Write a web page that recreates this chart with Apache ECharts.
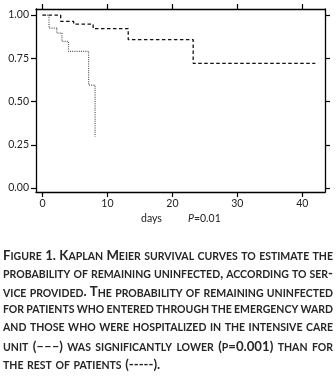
<!DOCTYPE html>
<html>
<head>
<meta charset="utf-8">
<script src="https://cdn.jsdelivr.net/npm/echarts@6/dist/echarts.min.js"></script>
<style>
  html, body { margin: 0; padding: 0; background: #fff; }
  #chart { width: 336px; height: 376px; }
</style>
</head>
<body>
<div id="chart"></div>
<script>
// survival curves (day, survival probability after the step)
var dashedDays = [0, 2.8, 4.8, 7.8, 13.2, 23.2, 42];
var dashedSurv = [1.00, 0.963, 0.948, 0.922, 0.858, 0.721, 0.721];
var dottedDays = [0, 1.0, 2.2, 3.0, 4.0, 7.1, 8.1];
var dottedSurv = [1.00, 0.925, 0.896, 0.848, 0.790, 0.595, 0.297];

var xTicks = [0, 10, 20, 30, 40];
var yTicks = [0, 0.25, 0.5, 0.75, 1];

// caption, lower case letters become small caps
var captionLines = [
    "Figure 1. Kaplan Meier survival curves to estimate the",
    "probability of remaining uninfected, according to ser-",
    "vice provided. The probability of remaining uninfected",
    "for patients who entered through the emergency ward",
    "and those who were hospitalized in the intensive care",
    "unit (\u2013\u2013\u2013) was significantly lower (p=0.001) than for",
    "the rest of patients (-----)."
];

var FONT = "Lato";
var BIG = 13.2, SMALL = 10.5;
var capLeft = 3, capRight = 333, capBase = 260.7, capStep = 18.1;

var ctx = document.createElement("canvas").getContext("2d");

function measure(str, size) {
    ctx.font = "bold " + size + "px " + FONT;
    return ctx.measureText(str).width;
}

// split a word into runs of big / small letters
function wordRuns(word) {
    var runs = [];
    for (var i = 0; i < word.length; i++) {
        var c = word[i];
        var small = c !== c.toUpperCase();
        var k = small ? "s" : "b";
        var ch = c.toUpperCase();
        if (runs.length && runs[runs.length - 1].k === k) {
            runs[runs.length - 1].t += ch;
        } else {
            runs.push({k: k, t: ch});
        }
    }
    return runs;
}

function captionGraphics() {
    var els = [];
    for (var i = 0; i < captionLines.length; i++) {
        var words = captionLines[i].split(" ");
        var total = 0, parts = [];
        for (var j = 0; j < words.length; j++) {
            var runs = wordRuns(words[j]);
            var s = "";
            for (var r = 0; r < runs.length; r++) {
                total += measure(runs[r].t, runs[r].k === "b" ? BIG : SMALL);
                s += "{" + runs[r].k + "|" + runs[r].t + "}";
            }
            parts.push(s);
        }
        var gap = (capRight - capLeft - total) / (words.length - 1);
        if (gap < 2) gap = 2;
        if (i === captionLines.length - 1) gap = 3.6;
        var line = parts.join("{g| }");
        var rich = {
            b: {fontSize: BIG, lineHeight: BIG, fontWeight: "bold", fontFamily: FONT, fill: "#262626", verticalAlign: "bottom"},
            s: {fontSize: SMALL, lineHeight: SMALL, fontWeight: "bold", fontFamily: FONT, fill: "#262626", verticalAlign: "bottom"},
            g: {fontSize: SMALL, lineHeight: SMALL, width: gap, fontFamily: FONT, verticalAlign: "bottom"}
        };
        els.push({
            type: "text",
            left: capLeft,
            top: capBase + i * capStep - BIG + 2,
            style: {text: line, rich: rich}
        });
    }
    return els;
}

function zip(a, b) {
    var out = [];
    for (var i = 0; i < a.length; i++) out.push([a[i], b[i]]);
    return out;
}

var axisLine = {show: true, onZero: false, lineStyle: {color: "#000", width: 1.3}};
var tickStyle = {color: "#000", width: 1.2};
var labelStyle = {color: "#222", fontSize: 10.5, fontFamily: FONT};

var chart = echarts.init(document.getElementById("chart"), null, {renderer: "canvas"});

var option = {
    animation: false,
    grid: {left: 36, right: 11, top: 9, bottom: 184},
    xAxis: [{
        type: "value", min: -1, max: 43.5, position: "bottom",
        axisLine: axisLine,
        axisTick: {show: true, length: 5, customValues: xTicks, lineStyle: tickStyle},
        axisLabel: Object.assign({customValues: xTicks, margin: 6}, labelStyle),
        splitLine: {show: false}
    }, {
        type: "value", min: -1, max: 43.5, position: "top",
        axisLine: axisLine,
        axisTick: {show: true, length: 5, customValues: xTicks, lineStyle: tickStyle},
        axisLabel: {show: false},
        splitLine: {show: false}
    }],
    yAxis: [{
        type: "value", min: -0.023, max: 1.035, position: "left",
        axisLine: axisLine,
        axisTick: {show: true, length: 5, customValues: yTicks, lineStyle: tickStyle},
        axisLabel: Object.assign({
            customValues: yTicks, margin: 7,
            formatter: function (v) { return v.toFixed(2); }
        }, labelStyle),
        splitLine: {show: false}
    }, {
        type: "value", min: -0.023, max: 1.035, position: "right",
        axisLine: axisLine,
        axisTick: {show: true, length: 5, customValues: yTicks, lineStyle: tickStyle},
        axisLabel: {show: false},
        splitLine: {show: false}
    }],
    series: [{
        name: "dashed",
        type: "line",
        step: "end",
        showSymbol: false,
        data: zip(dashedDays, dashedSurv),
        lineStyle: {color: "#111", width: 1.3, type: [3.5, 2.5]}
    }, {
        name: "dotted",
        type: "line",
        step: "end",
        showSymbol: false,
        data: zip(dottedDays, dottedSurv),
        lineStyle: {color: "#555", width: 1.2, type: [1, 1.2]}
    }],
    graphic: [{
        type: "text", left: 141, top: 213,
        style: {text: "days", fontSize: 10.5, fontFamily: FONT, fill: "#222"}
    }, {
        type: "text", left: 188, top: 213,
        style: {
            text: "{i|P}{n|=0.01}",
            rich: {
                i: {fontSize: 10.5, fontStyle: "italic", fontFamily: FONT, fill: "#222"},
                n: {fontSize: 10.5, fontFamily: FONT, fill: "#222"}
            }
        }
    }].concat(captionGraphics())
};

chart.setOption(option);
</script>
</body>
</html>
